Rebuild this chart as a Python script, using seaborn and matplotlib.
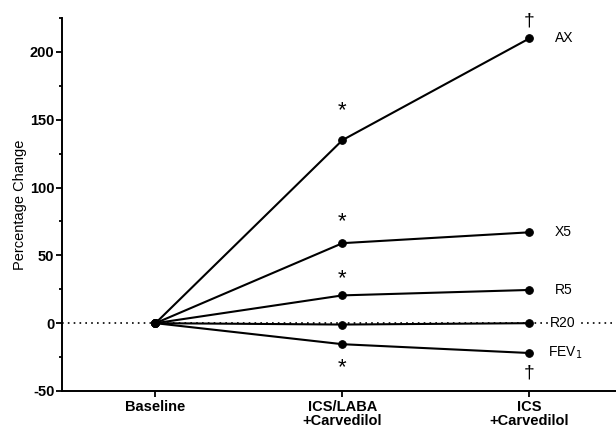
import pandas as pd
import matplotlib
matplotlib.use("Agg")
import matplotlib.pyplot as plt
import seaborn as sns

# --- datos ---
etapas = ["Baseline", "ICS/LABA\n+Carvedilol", "ICS\n+Carvedilol"]
series = ["AX", "X5", "R5", "R20", "FEV$_1$"]
ax_vals = [0, 135, 210]
x5_vals = [0, 59, 67]
r5_vals = [0, 20.5, 24.5]
r20_vals = [0, -1, 0]
fev1_vals = [0, -15.5, -22]
# marcas de significancia: (etapa, valor, simbolo)
marcas = [(1, 157, "*"), (1, 75, "*"), (1, 33, "*"), (1, -33, "*"),
          (2, 223, "\u2020"), (2, -37, "\u2020")]

valores = [ax_vals, x5_vals, r5_vals, r20_vals, fev1_vals]
filas = []
for nombre, vals in zip(series, valores):
    for i, v in enumerate(vals):
        filas.append({"etapa": i, "cambio": v, "serie": nombre})
df = pd.DataFrame(filas)

sns.set_style("ticks", {"text.color": "black", "axes.labelcolor": "black",
                        "xtick.color": "black", "ytick.color": "black",
                        "axes.edgecolor": "black"})
plt.rcParams["font.family"] = ["Liberation Sans", "DejaVu Sans"]
plt.rcParams["axes.unicode_minus"] = False

fig = plt.figure(figsize=(6.16, 4.30), dpi=100)
ax = fig.add_axes([62 / 616, 1 - 391 / 430, 561 / 616, (391 - 18) / 430])

# linea de referencia en cero
ax.axhline(0, color="black", lw=1.2, ls=(0, (1, 2.5)), zorder=1, clip_on=False)

sns.lineplot(data=df, x="etapa", y="cambio", hue="serie",
             palette=["black"] * len(series), marker="o", markersize=5.5,
             markeredgecolor="black", linewidth=1.5, legend=False, ax=ax,
             zorder=3)

# etiquetas de cada serie
offsets = {"AX": 0.135, "X5": 0.135, "R5": 0.135, "R20": 0.11, "FEV$_1$": 0.10}
for nombre, vals in zip(series, valores):
    ax.text(2 + offsets[nombre], vals[-1], nombre, fontsize=10, va="center",
            ha="left", zorder=4,
            bbox=dict(facecolor="white", edgecolor="none", pad=0.8))

for xi, yi, s in marcas:
    ax.text(xi, yi, s, fontsize=16 if s == "*" else 14, ha="center",
            va="center", clip_on=False)

ax.set_xlim(-0.5, 2.5)
ax.set_ylim(-50, 225)
ax.set_xticks([0, 1, 2])
ax.set_xticklabels(etapas, fontweight="bold", fontsize=10.5, linespacing=1.0)
ax.set_yticks([-50, 0, 50, 100, 150, 200])
ax.set_yticks([-25, 25, 75, 125, 175, 225], minor=True)
ax.tick_params(axis="y", labelsize=10.5, width=1.3, length=4.5, pad=1)
ax.tick_params(axis="y", which="minor", width=1.3, length=2.5)
ax.tick_params(axis="x", width=1.3, length=4.5, pad=2)
for lab in ax.get_yticklabels():
    lab.set_fontweight("bold")
ax.set_xlabel("")
ax.set_ylabel("Percentage Change", fontsize=10.5, labelpad=2)
ax.spines["top"].set_visible(False)
ax.spines["right"].set_visible(False)
ax.spines["left"].set_linewidth(1.4)
ax.spines["bottom"].set_linewidth(1.4)

fig.savefig("out.png", dpi=100)
